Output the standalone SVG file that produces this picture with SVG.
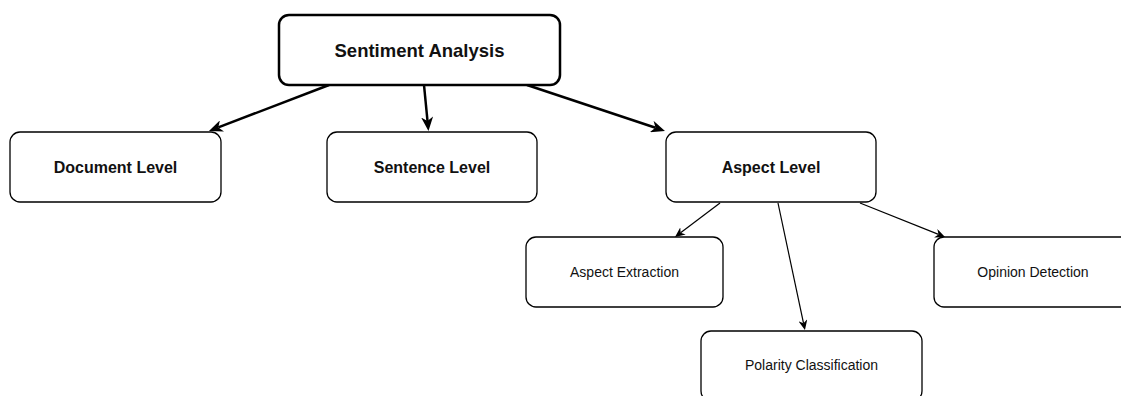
<svg xmlns="http://www.w3.org/2000/svg" width="1121" height="396" viewBox="0 0 1121 396">
  <style>
    .box { fill: #ffffff; stroke: #000000; stroke-width: 1.3; }
    .root { fill: #ffffff; stroke: #000000; stroke-width: 2.5; }
    .lbl { font-family: "Liberation Sans", Arial, sans-serif; fill: #111111; text-anchor: middle; }
    .b18 { font-size: 18.5px; font-weight: bold; }
    .b16 { font-size: 16px; font-weight: bold; }
    .r14 { font-size: 14px; }
    .thick { stroke: #000000; stroke-width: 2.5; fill: none; marker-end: url(#headBig); }
    .thin { stroke: #000000; stroke-width: 1.2; fill: none; marker-end: url(#headSmall); }
  </style>
  <defs>
    <marker id="headBig" markerUnits="userSpaceOnUse" markerWidth="14" markerHeight="12" refX="4" refY="6" orient="auto">
      <path d="M0,0 L14,6 L0,12 L4,6 z" fill="#000000"/>
    </marker>
    <marker id="headSmall" markerUnits="userSpaceOnUse" markerWidth="10" markerHeight="9" refX="3" refY="4.5" orient="auto">
      <path d="M0,0 L10,4.5 L0,9 L3,4.5 z" fill="#000000"/>
    </marker>
  </defs>

  <rect width="1121" height="396" fill="#ffffff"/>

  <!-- connectors -->
  <g id="connectors">
    <line class="thick" x1="329" y1="85" x2="218.3" y2="127.4"/>
    <line class="thick" x1="424" y1="85" x2="427.5" y2="121"/>
    <line class="thick" x1="527" y1="85" x2="655.5" y2="127.8"/>
    <line class="thin" x1="720" y1="203" x2="680.6" y2="232.8"/>
    <line class="thin" x1="778" y1="203" x2="803.5" y2="323.2"/>
    <line class="thin" x1="860" y1="203" x2="938.5" y2="234.4"/>
  </g>

  <g id="sentiment-analysis">
    <rect class="root" x="279" y="15" width="281" height="70" rx="10"/>
    <text class="lbl b18" x="419.5" y="56.5">Sentiment Analysis</text>
  </g>

  <g id="document-level">
    <rect class="box" x="10" y="132" width="211" height="70" rx="10"/>
    <text class="lbl b16" x="115.5" y="172.5">Document Level</text>
  </g>

  <g id="sentence-level">
    <rect class="box" x="327" y="132" width="210" height="70" rx="10"/>
    <text class="lbl b16" x="432" y="172.5">Sentence Level</text>
  </g>

  <g id="aspect-level">
    <rect class="box" x="666" y="132" width="210" height="70" rx="10"/>
    <text class="lbl b16" x="771" y="172.5">Aspect Level</text>
  </g>

  <g id="aspect-extraction">
    <rect class="box" x="526" y="237" width="197" height="70" rx="10"/>
    <text class="lbl r14" x="624.5" y="277">Aspect Extraction</text>
  </g>

  <g id="opinion-detection">
    <rect class="box" x="934" y="237" width="198" height="70" rx="10"/>
    <text class="lbl r14" x="1033" y="277">Opinion Detection</text>
  </g>

  <g id="polarity-classification">
    <rect class="box" x="701" y="331" width="221" height="70" rx="10"/>
    <text class="lbl r14" x="811.5" y="370">Polarity Classification</text>
  </g>
</svg>
